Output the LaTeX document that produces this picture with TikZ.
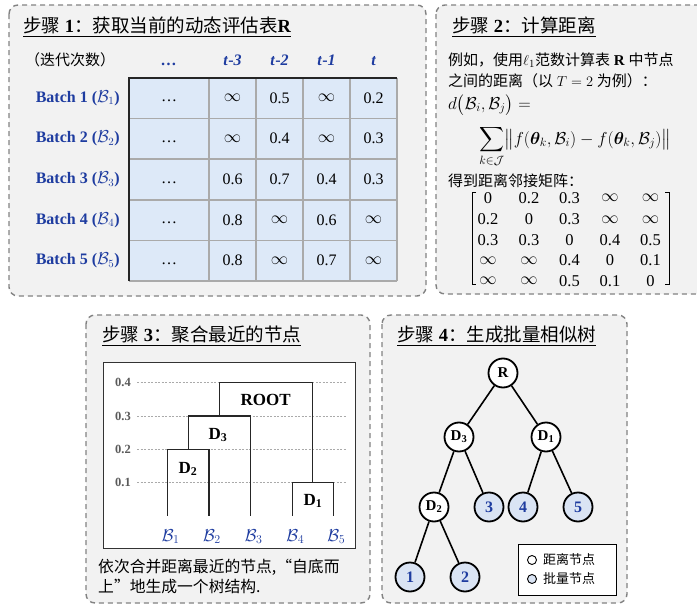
\documentclass[tikz,border=0pt]{standalone}
\usepackage{amsmath,bm}
\usepackage{fontspec}
\setmainfont{Liberation Serif}
\newfontfamily\cjk{Noto Sans CJK SC}
\newcommand{\zh}[1]{{\cjk #1}}
\newcommand{\fsz}[1]{\fontsize{#1}{#1}\selectfont}
\definecolor{dblue}{RGB}{30,60,160}
\definecolor{cellblue}{RGB}{221,233,248}
\definecolor{panelgray}{RGB}{242,242,242}
\definecolor{dashgray}{RGB}{130,130,130}
\definecolor{gridgray}{RGB}{170,170,170}
\definecolor{nodeblue}{RGB}{218,228,244}
\definecolor{axisgray}{RGB}{90,90,90}
\tikzset{
  panel/.style={draw=dashgray, fill=panelgray, dash pattern=on 5pt off 4pt, line width=1.4pt, rounded corners=9pt},
  titletext/.style={anchor=base west, inner sep=0pt, font=\fsz{18.5}},
  bodytext/.style={anchor=base west, inner sep=0pt, text height=11pt, text depth=2pt, font=\fsz{15}},
  hdr/.style={anchor=base, inner sep=0pt, text=dblue, font=\fsz{16}\bfseries\itshape},
  rowlab/.style={anchor=east, inner sep=0pt, text=dblue, font=\fsz{16}\bfseries},
  cellval/.style={inner sep=0pt, font=\fsz{16}},
  matval/.style={inner sep=0pt, font=\fsz{16.5}},
  axlab/.style={inner sep=0pt, text=axisgray, font=\fsz{12.5}\bfseries},
  dlab/.style={inner sep=0pt, font=\fsz{17}\bfseries},
  leaflab/.style={inner sep=0pt, text=dblue, font=\fsz{17}},
  dendro/.style={line width=1.3pt, black!85},
  treenode/.style={circle, draw=black, line width=1.8pt, minimum size=29pt, inner sep=0pt, fill=white, font=\fsz{15}\bfseries},
  batchnode/.style={treenode, fill=nodeblue, text=dblue, font=\fsz{16}\bfseries},
  treeedge/.style={line width=1.6pt, black},
  legdot/.style={circle, draw=black, line width=0.9pt, minimum size=9pt, inner sep=0pt},
}
\begin{document}
\begin{tikzpicture}[x=1pt, y=-1pt]
\useasboundingbox (0,0) rectangle (697,605);
\begin{scope}
\clip (0,0) rectangle (697,605);
% ---------- panels ----------
\draw[panel] (9,5) rectangle (426,296);
\draw[panel] (436,5) rectangle (712,294);
\draw[panel] (86,315) rectangle (370,603);
\draw[panel] (382,315) rectangle (627,603);
\end{scope}

% ---------- panel 1 ----------
\node[titletext] (t1) at (23,32) {\underline{\zh{步骤} \textbf{1}\zh{：获取当前的动态评估表}\textbf{R}}};
\node[anchor=base west, inner sep=0pt, font=\fsz{15}] (iter) at (25,65) {\zh{（迭代次数）}};
\node[hdr] (h0) at (169,65) {…};
\node[hdr] (h1) at (232.5,65) {t\textup{-}3};
\node[hdr] (h2) at (279.5,65) {t\textup{-}2};
\node[hdr] (h3) at (326.5,65) {t\textup{-}1};
\node[hdr] (h4) at (373.5,65) {t};

\fill[cellblue] (129,78) rectangle (397,281);
\foreach \yy in {118.5,159,200,240.5,281} \draw[gridgray, line width=1.2pt] (129,\yy) -- (397,\yy);
\foreach \xx in {209,256,303,350,397} \draw[gridgray, line width=1.2pt] (\xx,78) -- (\xx,281);
\draw[black!85, line width=1.4pt] (397,78) -- (129,78) -- (129,281);

\foreach \i/\yy in {1/98,2/138.5,3/179.5,4/220,5/260.5}
  \node[rowlab] (b\i) at (120,\yy) {Batch \i{} ($\mathcal{B}_{\i}$)};

\foreach \r/\yy/\va/\vb/\vc/\vd in {
  1/98/$\infty$/0.5/$\infty$/0.2,
  2/138.5/$\infty$/0.4/$\infty$/0.3,
  3/179.5/0.6/0.7/0.4/0.3,
  4/220/0.8/$\infty$/0.6/$\infty$,
  5/260.5/0.8/$\infty$/0.7/$\infty$}{
  \node[cellval] (c\r0) at (169,\yy+3) {…};
  \node[cellval] (c\r1) at (232.5,\yy) {\va};
  \node[cellval] (c\r2) at (279.5,\yy) {\vb};
  \node[cellval] (c\r3) at (326.5,\yy) {\vc};
  \node[cellval] (c\r4) at (373.5,\yy) {\vd};
}

% ---------- panel 2 ----------
\node[titletext] (t2) at (452,32) {\underline{\zh{步骤} \textbf{2}\zh{：计算距离}}};
\node[bodytext] (p2a) at (448,65) {\zh{例如，使用}$\ell_1$\zh{范数计算表} \textbf{R} \zh{中节点}};
\node[bodytext] (p2b) at (448,86) {\zh{之间的距离（以} $T=2$ \zh{为例）：}};
\node[anchor=base west, inner sep=0pt, font=\fsz{16.5}] (p2c) at (448,109) {$d\bigl(\mathcal{B}_i,\mathcal{B}_j\bigr)=$};
\node[anchor=base west, inner sep=0pt, font=\fsz{17}] (p2d) at (479,144) {$\displaystyle\sum_{k\in\mathcal{J}}\bigl\|f(\bm{\theta}_k,\mathcal{B}_i)-f(\bm{\theta}_k,\mathcal{B}_j)\bigr\|$};
\node[bodytext] (p2e) at (448,186) {\zh{得到距离邻接矩阵：}};

\foreach \r/\yy/\ma/\mb/\mc/\md/\me in {
  1/198/0/0.2/0.3/$\infty$/$\infty$,
  2/219.5/0.2/0/0.3/$\infty$/$\infty$,
  3/240/0.3/0.3/0/0.4/0.5,
  4/260.5/$\infty$/$\infty$/0.4/0/0.1,
  5/281/$\infty$/$\infty$/0.5/0.1/0}{
  \node[matval] (m\r1) at (488,\yy) {\ma};
  \node[matval] (m\r2) at (529,\yy) {\mb};
  \node[matval] (m\r3) at (569.5,\yy) {\mc};
  \node[matval] (m\r4) at (610,\yy) {\md};
  \node[matval] (m\r5) at (650.5,\yy) {\me};
}
\draw[line width=0.9pt] (476,192) -- (472,192) -- (472,284) -- (476,284);
\draw[line width=0.9pt] (665,192) -- (669,192) -- (669,284) -- (665,284);

% ---------- panel 3 ----------
\node[titletext] (t3) at (102,341) {\underline{\zh{步骤} \textbf{3}\zh{：聚合最近的节点}}};
\draw[black!80, fill=white, line width=0.9pt] (103,362) rectangle (355,548);
\foreach \v/\yy in {0.4/382.7,0.3/416,0.2/449.3,0.1/482.3}{
  \node[axlab] (ax\v) at (123,\yy) {\v};
  \draw[gridgray, dash pattern=on 2pt off 1.5pt, line width=0.7pt] (137,\yy) -- (346,\yy);
}
\coordinate (L1) at (167.7,515.7);
\coordinate (L2) at (209,515.7);
\coordinate (L3) at (250.7,515.7);
\coordinate (L4) at (292.3,515.7);
\coordinate (L5) at (333.3,515.7);
\draw[dendro] (L1) |- (188.3,449.3) -| (L2);
\draw[dendro] (188.3,449.3) |- (219.5,416) -| (L3);
\draw[dendro] (L4) |- (312.8,482.3) -| (L5);
\draw[dendro] (219.5,416) |- (266,382.7) -| (312.8,482.3);
\node[dlab] (root) at (265.7,400) {ROOT};
\node[dlab] (d3) at (218,435) {D$_\mathbf{3}$};
\node[dlab] (d2) at (188,469) {D$_\mathbf{2}$};
\node[dlab] (d1) at (313,501) {D$_\mathbf{1}$};
\foreach \i/\xx in {1/167.7,2/209,3/250.7,4/292.3,5/333.3}
  \node[leaflab] (lb\i) at (\xx+3,536.5) {$\mathcal{B}_{\i}$};
\node[bodytext, font=\fsz{15.8}] (cap1) at (98,572) {\zh{依次合并距离最近的节点,“自底而}};
\node[bodytext, font=\fsz{15.8}] (cap2) at (98,592) {\zh{上”地生成一个树结构.}};

% ---------- panel 4 ----------
\node[titletext] (t4) at (397,341) {\underline{\zh{步骤} \textbf{4}\zh{：生成批量相似树}}};
\node[treenode] (R) at (503,373) {R};
\node[treenode] (D3) at (459,437) {D$_\mathbf{3}$};
\node[treenode] (D1) at (546,437) {D$_\mathbf{1}$};
\node[treenode] (D2) at (434,507) {D$_\mathbf{2}$};
\node[batchnode] (n3) at (489,507) {3};
\node[batchnode] (n4) at (523,507) {4};
\node[batchnode] (n5) at (578,507) {5};
\node[batchnode] (n1) at (410,577) {1};
\node[batchnode] (n2) at (465,577) {2};
\draw[treeedge] (R) -- (D3);
\draw[treeedge] (R) -- (D1);
\draw[treeedge] (D3) -- (D2);
\draw[treeedge] (D3) -- (n3);
\draw[treeedge] (D1) -- (n4);
\draw[treeedge] (D1) -- (n5);
\draw[treeedge] (D2) -- (n1);
\draw[treeedge] (D2) -- (n2);
\draw[black, fill=white, line width=0.9pt] (518,544) rectangle (616,595);
\node[legdot, fill=white] (lg1) at (532,560) {};
\node[legdot, fill=nodeblue] (lg2) at (532,579) {};
\node[anchor=west, inner sep=0pt, font=\fsz{13}] (lt1) at (543,560) {\zh{距离节点}};
\node[anchor=west, inner sep=0pt, font=\fsz{13}] (lt2) at (543,579) {\zh{批量节点}};
\end{tikzpicture}
\end{document}
